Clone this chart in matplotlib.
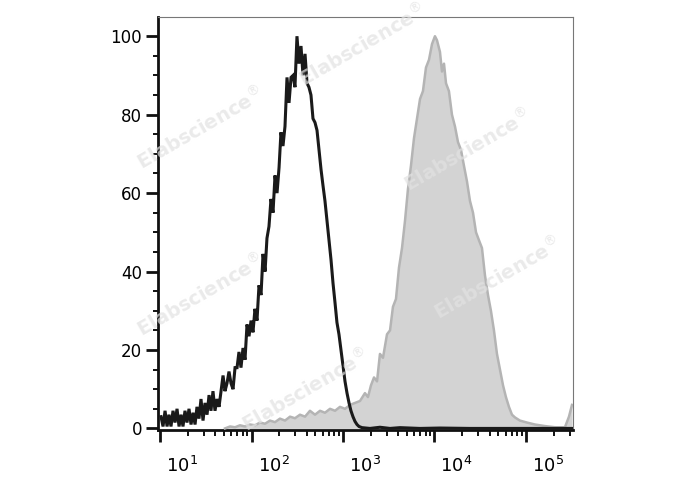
import numpy as np
import matplotlib
matplotlib.use("Agg")
import matplotlib.pyplot as plt
from matplotlib.ticker import LogLocator, NullFormatter, FixedLocator
import matplotlib.transforms as mtransforms

# ---- data: log10 intensity (exponent) and % of max ----
ctrl_exp = [1.011, 1.033, 1.055, 1.077, 1.098, 1.120, 1.142, 1.164, 1.186, 1.208,
            1.230, 1.251, 1.273, 1.295, 1.317, 1.339, 1.361, 1.383, 1.404, 1.426,
            1.448, 1.470, 1.492, 1.514, 1.536, 1.557, 1.579, 1.601, 1.623, 1.645,
            1.667, 1.689, 1.710, 1.732, 1.754, 1.776, 1.798, 1.820, 1.842, 1.863,
            1.885, 1.907, 1.929, 1.951, 1.973, 1.995, 2.016, 2.038, 2.060, 2.082,
            2.104, 2.126, 2.148, 2.169, 2.191, 2.213, 2.235, 2.257, 2.279, 2.301,
            2.322, 2.344, 2.366, 2.388, 2.410, 2.432, 2.454, 2.475, 2.497, 2.519,
            2.541, 2.563, 2.585, 2.607, 2.628, 2.650, 2.672, 2.694, 2.716, 2.738,
            2.760, 2.781, 2.803, 2.825, 2.847, 2.869, 2.891, 2.913, 2.934, 2.956,
            2.978, 3.000, 3.022, 3.044, 3.066, 3.087, 3.109, 3.131, 3.153, 3.175,
            3.208, 3.295, 3.404, 3.514, 3.623, 3.842, 4.060, 4.388, 4.716, 5.044, 5.503]
ctrl_val = [3, 0.5, 4.5, 0.5, 3.5, 0.5, 4.5, 1.5, 5, 0.5,
            3.5, 0.5, 4.5, 1.5, 5, 1, 4, 1, 5.5, 2.5,
            7.5, 2, 6.5, 3.5, 8.5, 4.5, 9.5, 4.5, 7.5, 5.5,
            9.5, 13.5, 9.5, 11.5, 14.5, 11.5, 10, 15.5, 15.5, 19.5,
            15.5, 20.5, 17.5, 26.5, 23.5, 27.5, 24.5, 30.5, 27.5, 36.5,
            34, 44.5, 40, 48.5, 51.5, 58.5, 55, 64.5, 60, 66.5,
            75.5, 72, 77, 89.5, 83, 89.5, 90, 87, 100, 93,
            97.5, 90, 95.5, 88, 87, 85, 79, 78, 76, 71,
            66, 62, 58, 53, 48, 43, 37, 32, 27, 24,
            20, 16, 12, 9, 6.5, 4.5, 3, 1.8, 1, 0.5,
            0.2, 0, 0.3, 0, 0.2, 0, 0.1, 0, 0, 0, 0]

stain_exp = [1.710, 1.765, 1.820, 1.874, 1.929, 1.984, 2.038, 2.093, 2.148, 2.202,
             2.257, 2.311, 2.366, 2.421, 2.475, 2.530, 2.585, 2.639, 2.694, 2.749,
             2.803, 2.858, 2.913, 2.967, 3.022, 3.077, 3.131, 3.186, 3.240, 3.273,
             3.306, 3.339, 3.372, 3.404, 3.437, 3.481, 3.514, 3.546, 3.579, 3.612,
             3.645, 3.678, 3.710, 3.743, 3.776, 3.809, 3.842, 3.874, 3.907, 3.940,
             3.973, 4.005, 4.027, 4.060, 4.082, 4.104, 4.126, 4.158, 4.191, 4.224,
             4.257, 4.290, 4.322, 4.355, 4.388, 4.421, 4.454, 4.486, 4.519, 4.552,
             4.585, 4.617, 4.650, 4.683, 4.716, 4.749, 4.781, 4.814, 4.847, 4.880,
             4.934, 5.011, 5.098, 5.208, 5.317, 5.426, 5.470, 5.503]
stain_val = [0, 0.5, 0.3, 0.8, 0.5, 1, 0.8, 1.5, 1.2, 2,
             1.6, 2.5, 2, 3, 2.6, 3.5, 3, 4.5, 3.5, 4.5,
             4, 5, 4.5, 5.5, 5, 6, 6.5, 7, 9, 8,
             11, 13, 12, 19, 18, 24, 25, 31, 33, 41,
             46, 53, 61, 67, 74, 79, 84, 86, 92, 94,
             98, 100, 99, 96, 91, 93, 88, 86, 80, 77,
             73, 71, 67, 63, 58, 55, 50, 48, 46, 39,
             34, 30, 25, 19, 15, 11, 8, 5.5, 3.5, 2.8,
             2, 1.5, 1, 0.6, 0.3, 0.3, 3, 6]

y_ticks = [0, 20, 40, 60, 80, 100]
x_decades = [1, 2, 3, 4, 5]
watermark = r"Elabscience$^{\circledR}$"

fig = plt.figure(figsize=(6.88, 4.90), dpi=100)
ax = fig.add_axes([158/688, 60/490, (573-158)/688, (430-17)/490])

cx = 10 ** np.array(ctrl_exp)
sx = 10 ** np.array(stain_exp)
ax.fill_between(sx, stain_val, 0, color="#d3d3d3", lw=0, zorder=2)
ax.plot(sx, stain_val, color="#b4b4b4", lw=1.8, zorder=3)
ax.plot(cx, ctrl_val, color="#1a1a1a", lw=2.2, zorder=4, solid_joinstyle="miter")

ax.set_xscale("log")
ax.set_xlim(10 ** 0.978, 10 ** 5.514)
ax.set_ylim(-0.4, 104.9)

# y ticks
ax.yaxis.set_major_locator(FixedLocator(y_ticks))
ax.yaxis.set_minor_locator(FixedLocator(np.arange(0, 101, 5)))
ax.set_yticklabels([str(v) for v in y_ticks])
ax.tick_params(axis="y", which="major", direction="out", length=8.5, width=2.0,
               labelsize=12, pad=3, color="#111111")
ax.tick_params(axis="y", which="minor", direction="out", length=3.8, width=1.4,
               color="#111111")

# x ticks
ax.xaxis.set_major_locator(FixedLocator([10.0 ** d for d in x_decades]))
ax.xaxis.set_minor_locator(LogLocator(base=10, subs=np.arange(2, 10), numticks=20))
ax.xaxis.set_minor_formatter(NullFormatter())
ax.set_xticklabels([r"$10^{%d}$" % d for d in x_decades])
ax.tick_params(axis="x", which="major", direction="out", length=8.5, width=2.0,
               labelsize=13, pad=10, color="#111111")
ax.tick_params(axis="x", which="minor", direction="out", length=4.0, width=1.4,
               color="#111111")
offset = mtransforms.ScaledTranslation(6/100, 0, fig.dpi_scale_trans)
for lab in ax.get_xticklabels():
    lab.set_horizontalalignment("left")
    lab.set_transform(lab.get_transform() + offset)

for s in ["left", "bottom"]:
    ax.spines[s].set_linewidth(2.0)
    ax.spines[s].set_color("#111111")
for s in ["top", "right"]:
    ax.spines[s].set_linewidth(0.8)
    ax.spines[s].set_color("#777777")

# watermarks
wm_pos = [(200, 128), (362, 45), (467, 150), (200, 295), (497, 278), (305, 390)]
for (px, py) in wm_pos:
    fig.text(px/688, 1 - py/490, watermark, rotation=30, fontsize=14,
             fontweight="bold", color="#e2e2e2", alpha=0.7,
             ha="center", va="center", zorder=10)

fig.savefig("out.png", dpi=100)
